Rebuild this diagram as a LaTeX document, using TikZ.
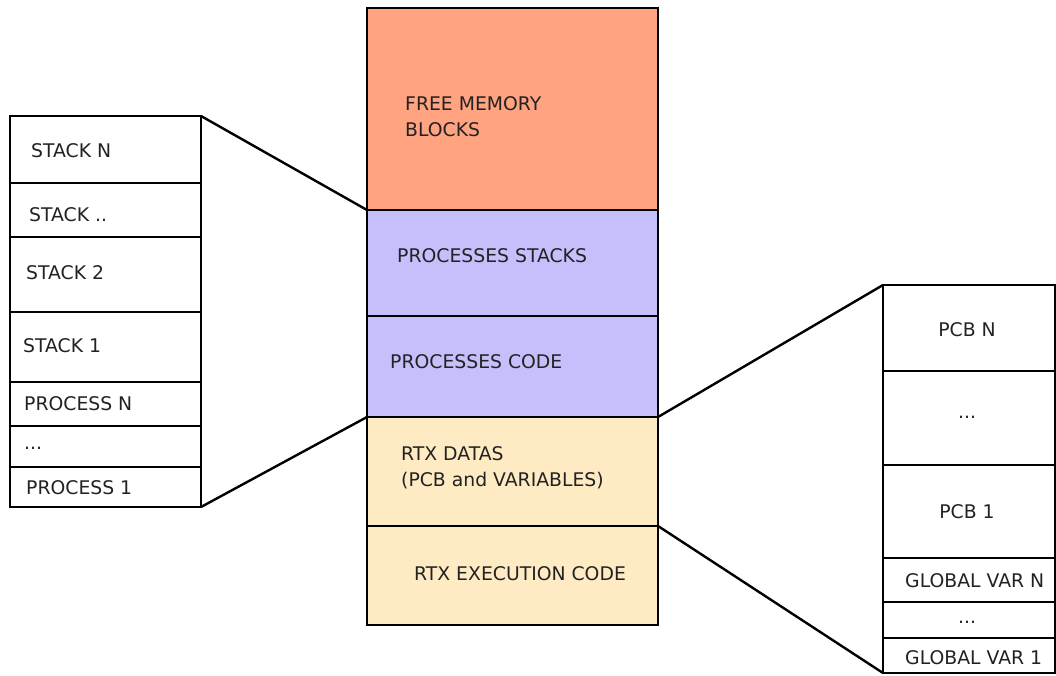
\documentclass[tikz,border=0pt]{standalone}
\usepackage{fontspec}
\setmainfont{DejaVu Sans}
\definecolor{salmon}{HTML}{FFA381}
\definecolor{lav}{HTML}{C5BFFB}
\definecolor{cream}{HTML}{FFEBC3}
\definecolor{txt}{HTML}{222222}
\tikzset{
  cellbox/.style={draw=black, line width=2.4pt, inner sep=0pt, outer sep=0pt, anchor=north west},
  lbl/.style={anchor=west, inner sep=0pt, text=txt, font=\fontsize{18.8}{26}\selectfont, align=left},
  clbl/.style={anchor=center, inner sep=0pt, text=txt, font=\fontsize{18.8}{26}\selectfont},
  link/.style={draw=black, line width=2.4pt}
}
\newcommand{\mycell}[6]{%
  \node[cellbox, fill=#6, minimum width={(#4-#2)*1pt}, minimum height={(#5-#3)*1pt}] (#1) at (#2,#3) {};}
\begin{document}
\begin{tikzpicture}[x=1pt,y=-1pt]
\useasboundingbox (0,0) rectangle (1056,675);
% centre column
\mycell{free}{367}{8}{658}{210}{salmon}
\mycell{pstacks}{367}{210}{658}{316}{lav}
\mycell{pcode}{367}{316}{658}{417}{lav}
\mycell{rtxdata}{367}{417}{658}{526}{cream}
\mycell{rtxexec}{367}{526}{658}{625}{cream}
% left column
\mycell{stackN}{10}{116}{201}{183}{white}
\mycell{stackdots}{10}{183}{201}{237}{white}
\mycell{stack2}{10}{237}{201}{312}{white}
\mycell{stack1}{10}{312}{201}{382}{white}
\mycell{procN}{10}{382}{201}{426}{white}
\mycell{procdots}{10}{426}{201}{467}{white}
\mycell{proc1}{10}{467}{201}{507}{white}
% right column
\mycell{pcbN}{883}{285}{1055}{371}{white}
\mycell{pcbdots}{883}{371}{1055}{465}{white}
\mycell{pcb1}{883}{465}{1055}{558}{white}
\mycell{gvN}{883}{558}{1055}{602}{white}
\mycell{gvdots}{883}{602}{1055}{638}{white}
\mycell{gv1}{883}{638}{1055}{673}{white}
% connectors
\draw[link] (stackN.north east) -- (pstacks.north west);
\draw[link] (proc1.south east) -- (pcode.south west);
\draw[link] (pcode.south east) -- (pcbN.north west);
\draw[link] (rtxexec.north east) -- (gv1.south west);
% centre labels
\node[lbl] (tfree) at (405,117) {FREE MEMORY\\BLOCKS};
\node[lbl] (tpstacks) at (397,256) {PROCESSES STACKS};
\node[lbl] (tpcode) at (390,362) {PROCESSES CODE};
\node[lbl] (trtxdata) at (401,468) {RTX DATAS\\(PCB and VARIABLES)};
\node[lbl] (trtxexec) at (414,574) {RTX EXECUTION CODE};
% left labels
\node[lbl] (tstackN) at (31,151) {STACK N};
\node[lbl] (tstackdots) at (29,215) {STACK ..};
\node[lbl] (tstack2) at (26,273) {STACK 2};
\node[lbl] (tstack1) at (23,346) {STACK 1};
\node[lbl] (tprocN) at (24,404) {PROCESS N};
\node[lbl] (tprocdots) at (24,448) {...};
\node[lbl] (tproc1) at (26,488) {PROCESS 1};
% right labels
\node[clbl] (tpcbN) at (967,330) {PCB N};
\node[clbl] (tpcbdots) at (967,417) {...};
\node[clbl] (tpcb1) at (967,512) {PCB 1};
\node[lbl] (tgvN) at (905,581) {GLOBAL VAR N};
\node[clbl] (tgvdots) at (967,622) {...};
\node[lbl] (tgv1) at (905,658) {GLOBAL VAR 1};
\end{tikzpicture}
\end{document}
